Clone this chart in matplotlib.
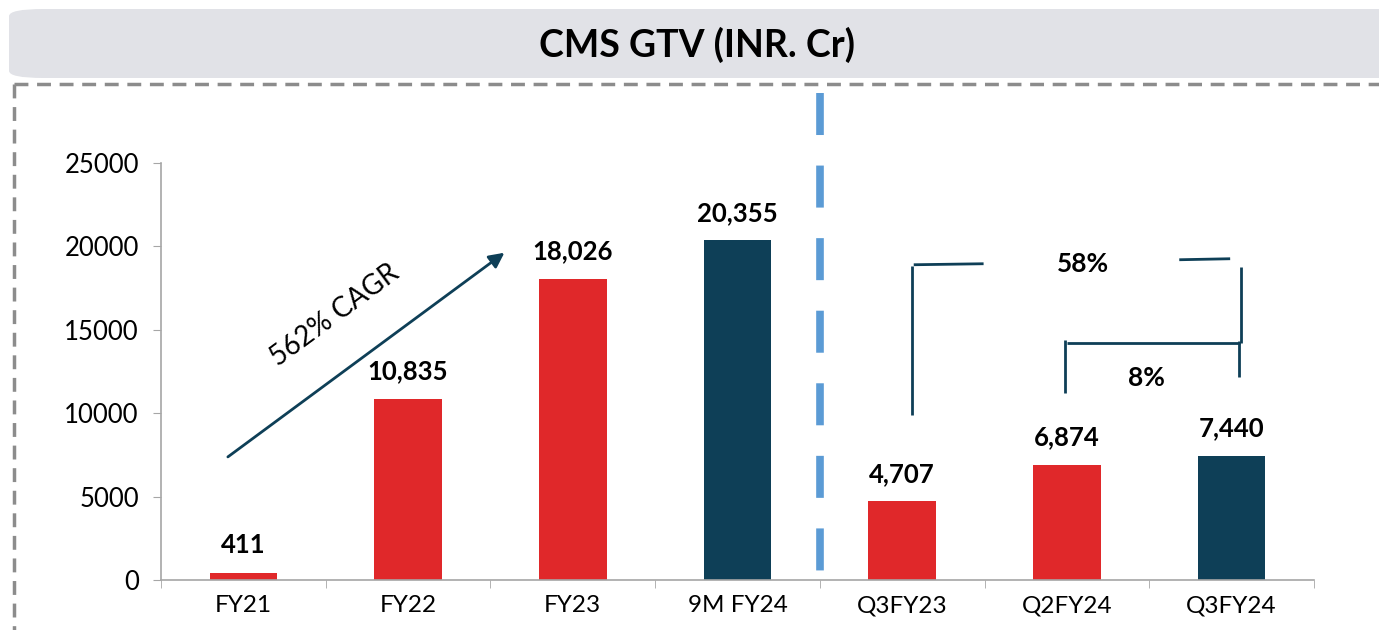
import matplotlib
matplotlib.use("Agg")
import matplotlib.pyplot as plt
from matplotlib.patches import FancyBboxPatch
from matplotlib.lines import Line2D

# ---------------------------------------------------------------------------
# Data
# ---------------------------------------------------------------------------
categories = ["FY21", "FY22", "FY23", "9M FY24", "Q3FY23", "Q2FY24", "Q3FY24"]
gtv = [411, 10835, 18026, 20355, 4707, 6874, 7440]
value_labels = ["411", "10,835", "18,026", "20,355", "4,707", "6,874", "7,440"]
highlight = [False, False, False, True, False, False, True]
yticks = [0, 5000, 10000, 15000, 20000, 25000]

title = "CMS GTV (INR. Cr)"
cagr_text = "562% CAGR"
yoy_text = "58%"
qoq_text = "8%"

RED = "#E0282A"
NAVY = "#0E3F57"
BLUE = "#5B9BD5"
GRID_GREY = "#A6A6A6"

plt.rcParams["font.family"] = ["Lato", "DejaVu Sans"]

W, H = 1379, 630
fig = plt.figure(figsize=(W / 100, H / 100), dpi=100)


def fx(px):
    return px / W


def fy(py):
    return 1 - py / H


# ---------------------------------------------------------------------------
# Header box + dashed frame
# ---------------------------------------------------------------------------
header = FancyBboxPatch((fx(9), fy(78)), fx(1420 - 9), fy(9) - fy(78),
                        boxstyle="round,pad=0,rounding_size=0.025",
                        transform=fig.transFigure, facecolor="#E1E2E7",
                        edgecolor="none", zorder=0, mutation_aspect=H / W)
fig.patches.append(header)
fig.text(fx(697), fy(45), title, ha="center", va="center",
         fontsize=27, fontweight="bold", color="black")

frame_kw = dict(color="#8C8C8C", linewidth=2.5, linestyle=(0, (4, 2.5)),
                transform=fig.transFigure)
fig.lines.append(Line2D([fx(14), fx(1379)], [fy(84), fy(84)], **frame_kw))
fig.lines.append(Line2D([fx(14), fx(14)], [fy(84), fy(632)], **frame_kw))

# ---------------------------------------------------------------------------
# Bars
# ---------------------------------------------------------------------------
ax = fig.add_axes([fx(161), fy(580), fx(1314) - fx(161), fy(163) - fy(580)])
x = list(range(len(categories)))
colors = [NAVY if h else RED for h in highlight]
ax.bar(x, gtv, width=0.41, color=colors, zorder=2)

for xi, v, lab in zip(x, gtv, value_labels):
    ax.annotate(lab, (xi, v), xytext=(0, 20), textcoords="offset points",
                ha="center", va="center", fontsize=18.5, fontweight="bold")

ax.set_xlim(-0.5, len(categories) - 0.5)
ax.set_ylim(0, 25000)
ax.set_yticks(yticks)
ax.set_yticklabels([str(t) for t in yticks], fontsize=18.5)
ax.set_xticks(x)
ax.set_xticklabels(categories, fontsize=17.5)
ax.set_xticks([i - 0.5 for i in range(len(categories) + 1)], minor=True)
ax.tick_params(axis="x", which="major", length=0, pad=11)
ax.tick_params(axis="x", which="minor", length=6, color=GRID_GREY, direction="out")
ax.tick_params(axis="y", length=6, color=GRID_GREY, direction="out", pad=10)
for side in ("top", "right"):
    ax.spines[side].set_visible(False)
for side in ("left", "bottom"):
    ax.spines[side].set_color(GRID_GREY)
    ax.spines[side].set_linewidth(1.2)

# Divider between annual and quarterly figures
ax.plot([3.5, 3.5], [29200, 480], color=BLUE, linewidth=5.5,
        linestyle=(0, (5.5, 4)), clip_on=False, zorder=3)

# CAGR arrow
ax.annotate("", xy=(1.585, 19620), xytext=(-0.094, 7380),
            arrowprops=dict(arrowstyle="-|>,head_length=0.9,head_width=0.45",
                            color=NAVY, lw=2, shrinkA=0, shrinkB=0))
ax.text(0.555, 15900, cagr_text, rotation=36.4, ha="center", va="center",
        fontsize=20, rotation_mode="anchor")

# Growth brackets
br = dict(color=NAVY, linewidth=2, solid_capstyle="butt", clip_on=False)
ax.plot([4.058, 4.058], [9900, 18850], **br)
ax.plot([4.07, 4.494], [18900, 18960], **br)
ax.plot([5.682, 5.991], [19200, 19260], **br)
ax.plot([6.058, 6.058], [14220, 18780], **br)
ax.plot([6.045, 6.045], [12180, 14300], **br)
ax.plot([4.991, 4.991], [11220, 14400], **br)
ax.plot([5.0, 6.05], [14220, 14220], **br)
ax.text(5.1, 18950, yoy_text, ha="center", va="center", fontsize=19,
        fontweight="bold")
ax.text(5.48, 12100, qoq_text, ha="center", va="center", fontsize=19,
        fontweight="bold")

fig.savefig("out.png", dpi=100)
